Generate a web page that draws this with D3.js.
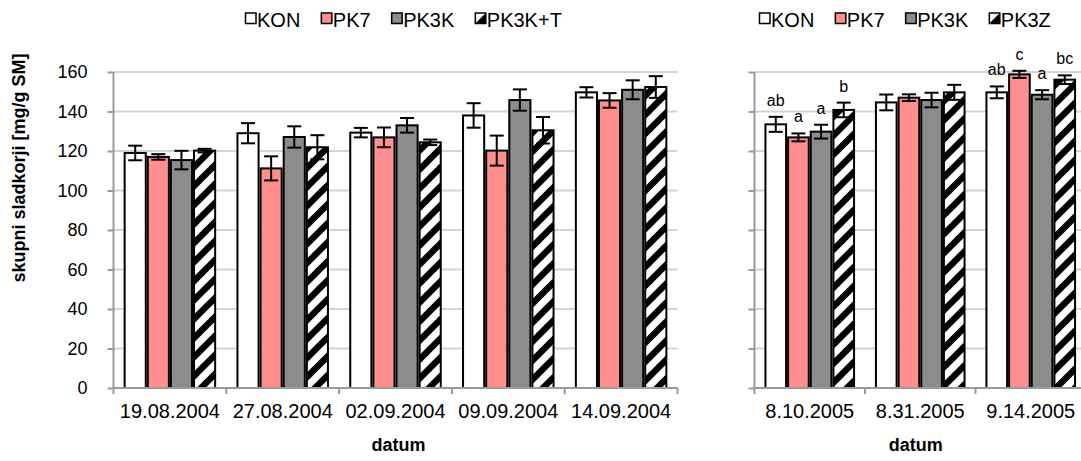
<!DOCTYPE html>
<html>
<head>
<meta charset="utf-8">
<script src="https://cdn.jsdelivr.net/npm/d3@7"></script>
<style>
  html, body { margin: 0; padding: 0; background: #fff; }
  svg { display: block; font-family: "Liberation Sans", Arial, sans-serif; }
</style>
</head>
<body>
<svg id="chart" width="1081" height="461"></svg>
<script>
// ---- 2004 panel ----
const categoriesA = ["19.08.2004", "27.08.2004", "02.09.2004", "09.09.2004", "14.09.2004"];
const seriesA = ["KON", "PK7", "PK3K", "PK3K+T"];
const konA = [119, 129, 129.3, 138, 149.7];
const pk7A = [117, 111.2, 126.9, 120.2, 145.6];
const pk3kA = [115.4, 127.1, 133, 145.8, 151];
const pk3ktA = [120.2, 121.9, 124.4, 130.5, 152.4];
const konErrA = [3.7, 5.1, 2.4, 6.2, 2.6];
const pk7ErrA = [1.4, 6.1, 5, 7.6, 3.7];
const pk3kErrA = [4.7, 5.4, 3.7, 5.4, 4.8];
const pk3ktErrA = [0.9, 6.1, 1.4, 6.7, 5.5];

// ---- 2005 panel ----
const categoriesB = ["8.10.2005", "8.31.2005", "9.14.2005"];
const seriesB = ["KON", "PK7", "PK3K", "PK3Z"];
const konB = [133.5, 144.6, 149.7];
const pk7B = [126.9, 147, 158.8];
const pk3kB = [129.8, 145.8, 148.5];
const pk3zB = [140.8, 149.7, 156.1];
const konErrB = [3.8, 4, 3];
const pk7ErrB = [2, 1.7, 1.8];
const pk3kErrB = [3.5, 3.7, 2.3];
const pk3zErrB = [3.7, 3.8, 2.2];
const konLetB = ["ab", "", "ab"];
const pk7LetB = ["a", "", "c"];
const pk3kLetB = ["a", "", "a"];
const pk3zLetB = ["b", "", "bc"];

const yTicks = [0, 20, 40, 60, 80, 100, 120, 140, 160];
const yTitle = "skupni sladkorji [mg/g SM]";
const xTitle = "datum";

const svg = d3.select("#chart");
const fills = ["#ffffff", "#ff8f8f", "#8c8c8c", "url(#hatch)"];

// diagonal stripe pattern for the fourth series
const P = 19;
const pat = svg.append("defs").append("pattern")
  .attr("id", "hatch").attr("patternUnits", "userSpaceOnUse")
  .attr("width", P).attr("height", P);
pat.append("rect").attr("width", P).attr("height", P).attr("fill", "#fff");
pat.append("path")
  .attr("d", `M${-P/2},${P/2}L${P/2},${-P/2}M0,${P}L${P},0M${P/2},${1.5*P}L${1.5*P},${P/2}`)
  .attr("stroke", "#000").attr("stroke-width", 6.5);

const y = d3.scaleLinear().domain([0, 160]).range([388, 72]);

function drawPanel(opts) {
  const g = svg.append("g");
  const x0 = d3.scaleBand().domain(opts.categories).range(opts.range).padding(0);
  const bw = x0.bandwidth();
  const m = bw * 0.09;
  const x1 = d3.scaleBand().domain(d3.range(opts.series.length)).range([m, bw - m]).padding(0);

  // gridlines
  g.append("g").selectAll("line").data(yTicks.filter(d => d > 0)).join("line")
    .attr("x1", opts.range[0]).attr("x2", opts.range[1])
    .attr("y1", d => y(d)).attr("y2", d => y(d))
    .attr("stroke", "#d4d4d4").attr("stroke-width", 2);

  // y axis
  const ya = g.append("g").attr("transform", `translate(${opts.range[0]},0)`)
    .call(d3.axisLeft(y).tickValues(yTicks).tickSize(6).tickPadding(20)
      .tickFormat(opts.yLabels ? d3.format("d") : ""));
  ya.select(".domain").attr("stroke", "#9a9a9a").attr("stroke-width", 2).attr("d", `M0,${y(160)}V${y(0)}`);
  ya.selectAll(".tick line").attr("stroke", "#9a9a9a").attr("stroke-width", 2);
  ya.selectAll(".tick text").attr("font-size", 18).attr("fill", "#000")
    .attr("font-family", "Liberation Sans, Arial, sans-serif");

  // bars
  opts.values.forEach((vals, si) => {
    const sg = g.append("g");
    sg.selectAll("rect").data(vals).join("rect")
      .attr("x", (d, i) => x0(opts.categories[i]) + x1(si) + 1)
      .attr("width", x1.bandwidth() - 2)
      .attr("y", d => y(d))
      .attr("height", d => y(0) - y(d))
      .attr("fill", fills[si]).attr("stroke", "#000").attr("stroke-width", 2);
  });

  // error bars
  opts.values.forEach((vals, si) => {
    const errs = opts.errors[si];
    vals.forEach((v, i) => {
      const cx = x0(opts.categories[i]) + x1(si) + x1.bandwidth() / 2;
      const top = y(v + errs[i]), bot = y(v - errs[i]);
      const eg = g.append("g").attr("stroke", "#000").attr("stroke-width", 2);
      eg.append("line").attr("x1", cx).attr("x2", cx).attr("y1", top).attr("y2", bot);
      eg.append("line").attr("x1", cx - 7).attr("x2", cx + 7).attr("y1", top).attr("y2", top);
      eg.append("line").attr("x1", cx - 7).attr("x2", cx + 7).attr("y1", bot).attr("y2", bot);
      if (opts.letters && opts.letters[si][i]) {
        g.append("text").attr("x", cx).attr("y", top - 11)
          .attr("text-anchor", "middle").attr("font-size", 16).text(opts.letters[si][i]);
      }
    });
  });

  // x axis
  const xa = g.append("g").attr("transform", `translate(0,${y(0)})`)
    .call(d3.axisBottom(x0).tickSize(0).tickPadding(16));
  xa.select(".domain").attr("stroke", "#9a9a9a").attr("stroke-width", 2)
    .attr("d", `M${opts.range[0]},0H${opts.range[1]}`);
  xa.selectAll(".tick text").attr("font-size", 20).attr("fill", "#000")
    .attr("font-family", "Liberation Sans, Arial, sans-serif");
  const bounds = opts.categories.map(c => x0(c)).concat([opts.range[1]]);
  xa.append("g").selectAll("line").data(bounds).join("line")
    .attr("x1", d => d).attr("x2", d => d).attr("y1", 0).attr("y2", 6)
    .attr("stroke", "#9a9a9a").attr("stroke-width", 2);

  // x title
  g.append("text").attr("x", (opts.range[0] + Math.min(opts.range[1], 1081)) / 2 + opts.titleShift)
    .attr("y", 451).attr("text-anchor", "middle")
    .attr("font-size", 18).attr("font-weight", "bold").text(xTitle);

  // legend
  const lg = svg.append("g");
  let cx = opts.legendX;
  opts.series.forEach((name, si) => {
    const item = lg.append("g").attr("transform", `translate(${cx},0)`);
    if (si === 3) {
      item.append("rect").attr("x", 0).attr("y", 13).attr("width", 10.5).attr("height", 10.5)
        .attr("fill", "#fff");
      item.append("path").attr("d", "M0,23.5L10.5,13V23.5Z").attr("fill", "#000");
      item.append("rect").attr("x", 0).attr("y", 13).attr("width", 10.5).attr("height", 10.5)
        .attr("fill", "none").attr("stroke", "#000").attr("stroke-width", 1.5);
    } else {
      item.append("rect").attr("x", 0).attr("y", 13).attr("width", 10.5).attr("height", 10.5)
        .attr("fill", fills[si]).attr("stroke", "#000").attr("stroke-width", 1.5);
    }
    const t = item.append("text").attr("x", 11.5).attr("y", 26.5)
      .attr("font-size", 20).text(name);
    cx += 11.5 + t.node().getComputedTextLength() + 21;
  });
}

drawPanel({
  categories: categoriesA, series: seriesA,
  values: [konA, pk7A, pk3kA, pk3ktA],
  errors: [konErrA, pk7ErrA, pk3kErrA, pk3ktErrA],
  range: [113.5, 677.5], yLabels: true, legendX: 245.5, titleShift: 3
});

drawPanel({
  categories: categoriesB, series: seriesB,
  values: [konB, pk7B, pk3kB, pk3zB],
  errors: [konErrB, pk7ErrB, pk3kErrB, pk3zErrB],
  letters: [konLetB, pk7LetB, pk3kLetB, pk3zLetB],
  range: [754.5, 1086], yLabels: false, legendX: 759.5, titleShift: -2
});

// y axis title
svg.append("text")
  .attr("transform", "translate(25,168) rotate(-90)")
  .attr("text-anchor", "middle").attr("font-size", 18).attr("font-weight", "bold")
  .text(yTitle);
</script>
</body>
</html>
